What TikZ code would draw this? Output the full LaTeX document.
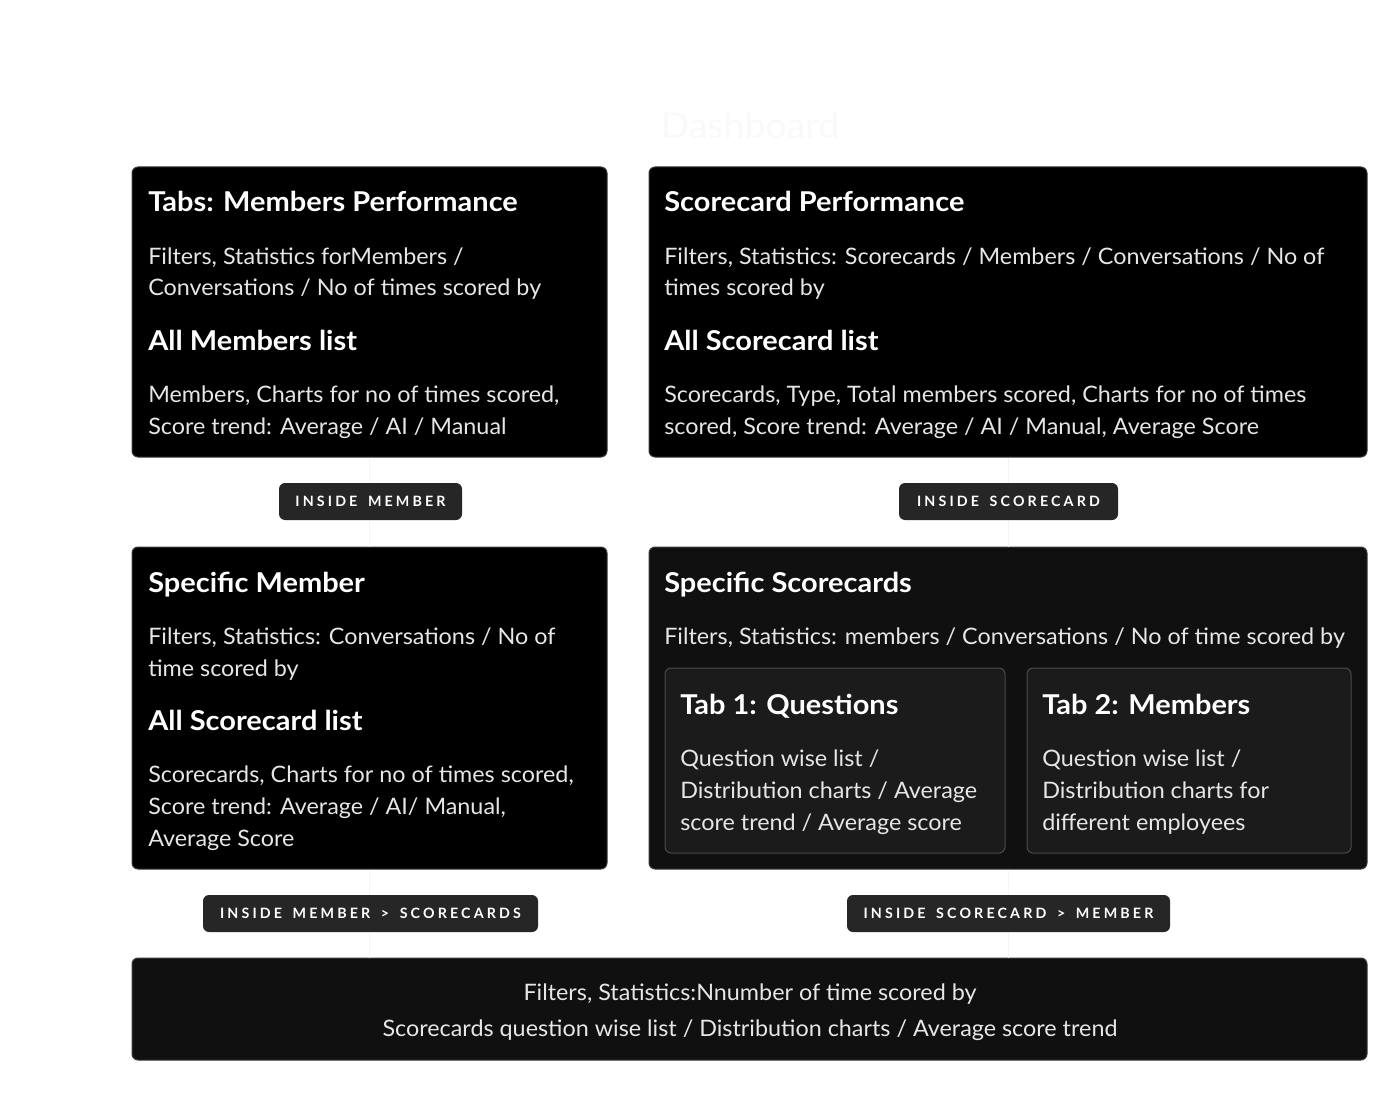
\documentclass[tikz,border=0pt]{standalone}
\usepackage{fontspec}
\setmainfont{Lato}
\newfontfamily\pillfont{Lato}[LetterSpace=22,WordSpace=1.6]
\usetikzlibrary{fit}
\definecolor{cardline}{HTML}{3A3A3A}
\definecolor{darkfill}{HTML}{101010}
\definecolor{tabfill}{HTML}{1B1B1B}
\definecolor{tabline}{HTML}{4A4A4A}
\definecolor{pillfill}{HTML}{262626}
\definecolor{bodytext}{HTML}{E6E6E6}
\definecolor{faintline}{HTML}{F4F4F4}
\definecolor{titletext}{HTML}{F9F9F9}
\tikzset{
  card/.style={draw=cardline, fill=black, rounded corners=4.5pt, line width=0.75pt, inner sep=0pt},
  darkcard/.style={card, fill=darkfill},
  tabcard/.style={draw=tabline, fill=tabfill, rounded corners=4.5pt, line width=0.75pt, inner sep=0pt},
  headtext/.style={text=white, font=\fontsize{20.5pt}{24pt}\selectfont\bfseries\addfontfeatures{FakeStretch=1.06}, inner sep=0pt},
  bodytxt/.style={text=bodytext, font=\fontsize{17pt}{24pt}\selectfont\addfontfeatures{FakeStretch=1.03}, inner sep=0pt, align=left},
  pill/.style={fill=pillfill, rounded corners=4.5pt, text=white, minimum height=27.75pt, inner sep=0pt,
    font=\pillfont\fontsize{10.7pt}{12pt}\selectfont\bfseries},
  faint/.style={draw=faintline, line width=0.75pt},
}
\begin{document}
\begin{tikzpicture}[x=0.75pt,y=-0.75pt]
\useasboundingbox (0,0) rectangle (1400,1102);

% title
\node[text=titletext, font=\fontsize{27pt}{30pt}\selectfont\addfontfeatures{FakeStretch=1.04}, inner sep=0pt] (title) at (750,125) {Dashboard};

% cards
\node[card, fit={(132,167) (607,457)}] (tl) {};
\node[card, fit={(649,167) (1367,457)}] (tr) {};
\node[card, fit={(132,547) (607,869)}] (sm) {};
\node[darkcard, fit={(649,547) (1367,869)}] (ss) {};
\node[tabcard, fit={(665,668) (1005,853)}] (tabA) {};
\node[tabcard, fit={(1027,668) (1351,853)}] (tabB) {};
\node[darkcard, fit={(132,958) (1367,1060)}] (bot) {};

% faint connectors
\draw[faint] (tl.south) -- (sm.north);
\draw[faint] (tr.south) -- (ss.north);
\draw[faint] (sm.south) -- (sm.south |- bot.north);
\draw[faint] ([xshift=0.5pt]ss.south) -- ([xshift=0.5pt]ss.south |- bot.north);

% pills
\node[pill, minimum width=137.25pt] (pA) at (370.5,501.5) {INSIDE MEMBER};
\node[pill, minimum width=164.25pt] (pB) at (1008.5,501.5) {INSIDE SCORECARD};
\node[pill, minimum width=251.25pt] (pC) at (370.5,913.5) {INSIDE MEMBER > SCORECARDS};
\node[pill, minimum width=242.25pt] (pD) at (1008.5,913.5) {INSIDE SCORECARD > MEMBER};

% top-left text
\node[headtext, anchor=base west] (tlh1) at (148,212) {Tabs: Members Performance};
\node[bodytxt, anchor=base west] (tlb1) at (148,264) {Filters, Statistics forMembers /};
\node[bodytxt, anchor=base west] (tlb2) at (148,296) {Conversations / No of times scored by};
\node[headtext, anchor=base west] (tlh2) at (148,350) {All Members list};
\node[bodytxt, anchor=base west] (tlb3) at (148,402) {Members, Charts for no of times scored,};
\node[bodytxt, anchor=base west] (tlb4) at (148,434) {Score trend: Average / AI / Manual};

% top-right text
\node[headtext, anchor=base west] (trh1) at (664,212) {Scorecard Performance};
\node[bodytxt, anchor=base west] (trb1) at (664,264) {Filters, Statistics: Scorecards / Members / Conversations / No of};
\node[bodytxt, anchor=base west] (trb2) at (664,296) {times scored by};
\node[headtext, anchor=base west] (trh2) at (664,350) {All Scorecard list};
\node[bodytxt, anchor=base west] (trb3) at (664,402) {Scorecards, Type, Total members scored, Charts for no of times};
\node[bodytxt, anchor=base west] (trb4) at (664,434) {scored, Score trend: Average / AI / Manual, Average Score};

% specific member text
\node[headtext, anchor=base west] (smh1) at (148,592) {Specific Member};
\node[bodytxt, anchor=base west] (smb1) at (148,644) {Filters, Statistics: Conversations / No of};
\node[bodytxt, anchor=base west] (smb2) at (148,676) {time scored by};
\node[headtext, anchor=base west] (smh2) at (148,730) {All Scorecard list};
\node[bodytxt, anchor=base west] (smb3) at (148,782) {Scorecards, Charts for no of times scored,};
\node[bodytxt, anchor=base west] (smb4) at (148,814) {Score trend: Average / AI/ Manual,};
\node[bodytxt, anchor=base west] (smb5) at (148,846) {Average Score};

% specific scorecards text
\node[headtext, anchor=base west] (ssh1) at (664,592) {Specific Scorecards};
\node[bodytxt, anchor=base west] (ssb1) at (664,644) {Filters, Statistics: members / Conversations / No of time scored by};
\node[headtext, anchor=base west] (tAh) at (680,714) {Tab 1: Questions};
\node[bodytxt, anchor=base west] (tAb1) at (680,766) {Question wise list /};
\node[bodytxt, anchor=base west] (tAb2) at (680,798) {Distribution charts / Average};
\node[bodytxt, anchor=base west] (tAb3) at (680,830) {score trend / Average score};
\node[headtext, anchor=base west] (tBh) at (1042,714) {Tab 2: Members};
\node[bodytxt, anchor=base west] (tBb1) at (1042,766) {Question wise list /};
\node[bodytxt, anchor=base west] (tBb2) at (1042,798) {Distribution charts for};
\node[bodytxt, anchor=base west] (tBb3) at (1042,830) {different employees};

% bottom text
\node[bodytxt, anchor=base] (bt1) at (750,1000) {Filters, Statistics:Nnumber of time scored by};
\node[bodytxt, anchor=base] (bt2) at (750,1036) {Scorecards question wise list / Distribution charts / Average score trend};
\end{tikzpicture}
\end{document}
